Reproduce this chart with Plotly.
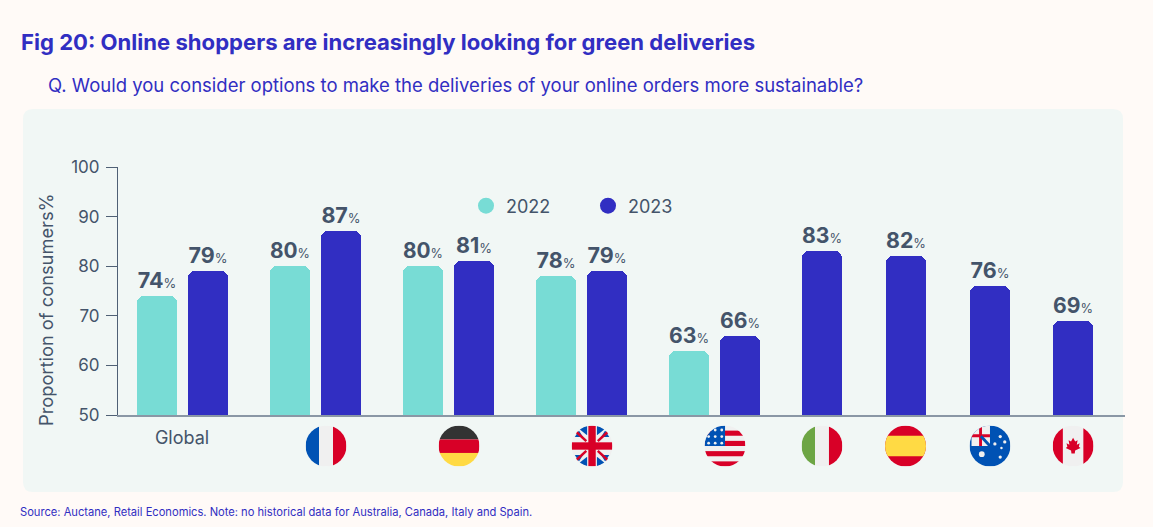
import base64
import plotly.graph_objects as go

# ---- data ----
categories = ["Global", "France", "Germany", "UK", "USA", "Italy", "Spain", "Australia", "Canada"]
values_2022 = [74, 80, 80, 78, 63]
values_2023 = [79, 87, 81, 79, 66, 83, 82, 76, 69]
y_ticks = [50, 60, 70, 80, 90, 100]
series_names = ["2022", "2023"]

TITLE = "Fig 20: Online shoppers are increasingly looking for green deliveries"
SUBTITLE = "Q. Would you consider options to make the deliveries of your online orders more sustainable?"
SOURCE = "Source: Auctane, Retail Economics. Note: no historical data for Australia, Canada, Italy and Spain."
Y_TITLE = "Proportion of consumers%"

# ---- layout helpers ----
W, H = 1153, 527
MY = 12  # vertical margin that leaves room for the legend's own automargin
HP = H - 2 * MY
BLUE, TEAL, INK = "#312EC2", "#78DCD5", "#44546A"
FONT = "Inter, Noto Sans, sans-serif"
px = lambda v: v / W
py = lambda v: 1 - (v - MY) / HP

AX_L, AX_R, AX_T, AX_B = 118, 1125, 167, 415
GROUP_PITCH = 133.0
ORIGIN = 182.0
slot = [0, 1, 2, 3, 4, 4.812, 5.44, 6.075, 6.70]
flag_slot = [0.083 + i for i in range(1, 5)] + slot[5:]
BAR_W = 40 / GROUP_PITCH
OFFSET = 25.5 / GROUP_PITCH
x_range = [(AX_L - ORIGIN) / GROUP_PITCH, (AX_R - ORIGIN) / GROUP_PITCH]

x_2022 = [slot[i] - OFFSET for i in range(len(values_2022))]
x_2023 = [s + OFFSET if i < len(values_2022) else s for i, s in enumerate(slot)]


def label(v):
    return f'<b>{v}</b><span style="font-size:13px">%</span>'


def wrap(body):
    svg = ('<svg xmlns="http://www.w3.org/2000/svg" viewBox="0 0 100 100" width="200" height="200">'
           '<defs><clipPath id="c"><circle cx="50" cy="50" r="50"/></clipPath></defs>'
           f'<g clip-path="url(#c)">{body}</g></svg>')
    return "data:image/svg+xml;base64," + base64.b64encode(svg.encode()).decode()


def rect(x, y, w, h, c):
    return f'<rect x="{x}" y="{y}" width="{w}" height="{h}" fill="{c}"/>'


R, B, WH, Y = "#D80027", "#0052B4", "#F0F0F0", "#FFDA44"
stars_us = "".join(f'<circle cx="{x}" cy="{y}" r="3.4" fill="#F0F0F0"/>'
                   for x in (10, 26, 42) for y in (11, 27, 43))
stars_au = "".join(f'<circle cx="{x}" cy="{y}" r="{r}" fill="#F0F0F0"/>'
                   for x, y, r in ((75, 27, 4), (86, 40, 4), (62, 45, 4), (78, 55, 3), (75, 77, 4), (30, 70, 7)))
leaf = '<polygon fill="#D80027" points="50,30 55,39 61,36 59,47 66,43 64,52 68,55 55,61 54,68 46,68 45,61 32,55 36,52 34,43 41,47 39,36 45,39"/>'

flags = [
    wrap(rect(0, 0, 33, 100, B) + rect(33, 0, 34, 100, WH) + rect(67, 0, 33, 100, R)),
    wrap(rect(0, 0, 100, 34, "#333333") + rect(0, 34, 100, 33, R) + rect(0, 67, 100, 33, Y)),
    wrap(rect(0, 0, 100, 100, WH)
         + '<g fill="#0052B4"><polygon points="8,28 28,28 18,12"/><polygon points="38,0 38,24 18,8"/>'
           '<polygon points="62,0 62,24 82,8"/><polygon points="92,28 72,28 82,12"/>'
           '<polygon points="8,72 28,72 18,88"/><polygon points="38,100 38,76 18,92"/>'
           '<polygon points="62,100 62,76 82,92"/><polygon points="92,72 72,72 82,88"/></g>'
         + '<g stroke="#D80027" stroke-width="6"><line x1="10" y1="14" x2="36" y2="38"/><line x1="90" y1="14" x2="64" y2="38"/>'
           '<line x1="10" y1="86" x2="36" y2="62"/><line x1="90" y1="86" x2="64" y2="62"/></g>'
         + rect(41, 0, 18, 100, R) + rect(0, 41, 100, 18, R)),
    wrap(rect(0, 0, 100, 100, WH) + "".join(rect(0, y, 100, 12.5, R) for y in (12.5, 37.5, 62.5, 87.5))
         + rect(0, 0, 50, 50, B) + stars_us),
    wrap(rect(0, 0, 33, 100, "#6DA544") + rect(33, 0, 34, 100, WH) + rect(67, 0, 33, 100, R)),
    wrap(rect(0, 0, 100, 100, R) + rect(0, 25, 100, 50, Y)),
    wrap(rect(0, 0, 100, 100, B) + rect(5, 0, 45, 50, WH)
         + '<g stroke="#D80027" stroke-width="7"><line x1="27" y1="0" x2="27" y2="50"/><line x1="0" y1="25" x2="50" y2="25"/></g>'
         + '<line x1="28" y1="26" x2="50" y2="50" stroke="#0052B4" stroke-width="7"/>' + stars_au),
    wrap(rect(0, 0, 100, 100, WH) + rect(0, 0, 25, 100, R) + rect(75, 0, 25, 100, R) + leaf),
]

FLAG_D = 41
images = [
    dict(source=src, xref="paper", yref="paper",
         x=px(ORIGIN + s * GROUP_PITCH), y=py(446),
         sizex=px(FLAG_D), sizey=FLAG_D / HP,
         xanchor="center", yanchor="middle", sizing="contain", layer="above")
    for src, s in zip(flags, flag_slot)
]

# rounded panel, in paper coordinates
pl, pr, pt, pb, r = px(23), px(1123), py(109), py(492), 10
rx, ry = r / W, r / HP
panel = (f"M{pl + rx},{pt} L{pr - rx},{pt} Q{pr},{pt} {pr},{pt - ry} L{pr},{pb + ry} Q{pr},{pb} {pr - rx},{pb} "
         f"L{pl + rx},{pb} Q{pl},{pb} {pl},{pb + ry} L{pl},{pt - ry} Q{pl},{pt} {pl + rx},{pt} Z")

fig = go.Figure()
for name, xs, vals, col in ((series_names[0], x_2022, values_2022, TEAL),
                            (series_names[1], x_2023, values_2023, BLUE)):
    fig.add_bar(x=xs, y=vals, width=BAR_W, name=name, showlegend=False,
                marker=dict(color=col, cornerradius=7, line_width=0),
                text=[label(v) for v in vals], textposition="outside",
                textangle=0, cliponaxis=False,
                textfont=dict(family=FONT, size=21.5, color=INK))
    fig.add_scatter(x=[None], y=[None], mode="markers", name=name,
                    marker=dict(color=col, size=17, symbol="circle"))

fig.update_layout(
    width=W, height=H, autosize=False,
    margin=dict(l=0, r=0, t=MY, b=MY),
    paper_bgcolor="#FFFAF7", plot_bgcolor="rgba(0,0,0,0)",
    font=dict(family=FONT, color=INK),
    bargap=0, uniformtext=dict(mode=False),
    title=dict(text=f"<b>{TITLE}</b>", x=px(21), xanchor="left", xref="paper",
               y=py(42), yanchor="middle", yref="paper",
               font=dict(family=FONT, size=22.1, color=BLUE)),
    xaxis=dict(domain=[px(AX_L), px(AX_R)], range=x_range, showgrid=False, zeroline=False,
               showline=True, linecolor="#8A97A5", linewidth=1.5,
               tickmode="array", tickvals=[slot[0]], ticktext=[categories[0]],
               ticks="", ticklabelstandoff=6, tickfont=dict(size=18, color=INK)),
    yaxis=dict(domain=[py(AX_B), py(AX_T)], range=[50, 100], showgrid=False, zeroline=False,
               showline=True, linecolor="#4F6075", linewidth=1.2,
               tickmode="array", tickvals=y_ticks, ticks="outside", ticklen=11,
               ticklabelstandoff=3,
               tickcolor="#4F6075", tickwidth=1, tickfont=dict(size=17, color=INK)),
    legend=dict(orientation="h", x=px(466), y=py(206), xanchor="left", yanchor="middle",
                bgcolor="rgba(0,0,0,0)", font=dict(size=18, color=INK),
                entrywidth=77, entrywidthmode="pixels", itemclick=False, itemdoubleclick=False),
    shapes=[dict(type="path", xref="paper", yref="paper", path=panel,
                 fillcolor="#F1F7F5", line_width=0, layer="below")],
    images=images,
    annotations=[
        dict(text=SUBTITLE, xref="paper", yref="paper", x=px(46), y=py(85), xanchor="left",
             yanchor="middle", showarrow=False, font=dict(family=FONT, size=18.5, color=BLUE)),
        dict(text=SOURCE, xref="paper", yref="paper", x=px(18), y=py(512), xanchor="left",
             yanchor="middle", showarrow=False, font=dict(family=FONT, size=11.15, color=BLUE)),
        dict(text=Y_TITLE, xref="paper", yref="paper", x=px(46), y=py(310), xanchor="center",
             yanchor="middle", textangle=-90, showarrow=False,
             font=dict(family=FONT, size=18.3, color=INK)),
    ],
)

fig.write_html("out.html", config=dict(displayModeBar=False),
               post_script="document.body.style.margin='0';document.body.style.overflow='hidden';")
